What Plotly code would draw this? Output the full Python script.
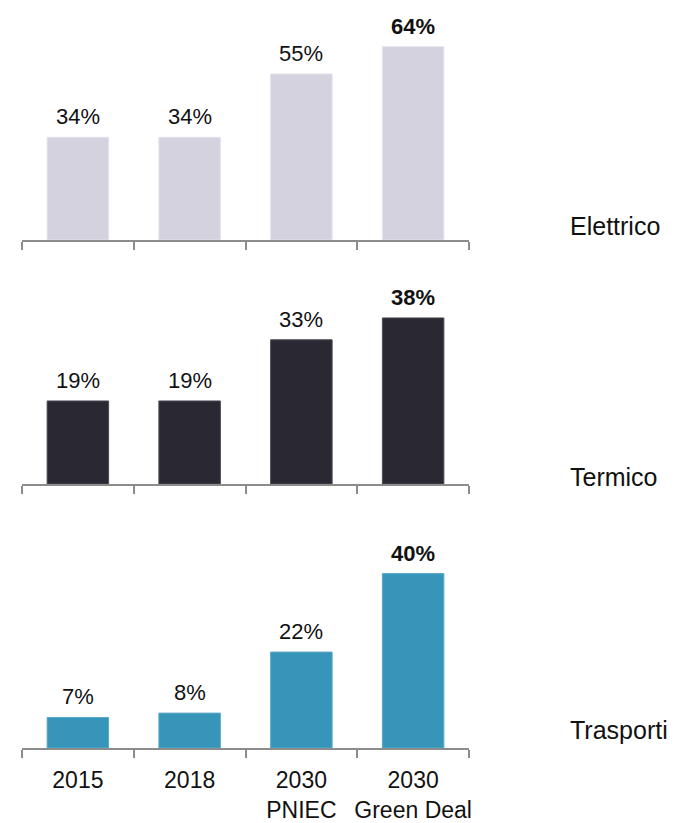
import plotly.graph_objects as go

categories = ["2015", "2018", "2030<br>PNIEC", "2030<br>Green Deal"]
sectors = ["Elettrico", "Termico", "Trasporti"]
elettrico = [34, 34, 55, 64]
termico = [19, 19, 33, 38]
trasporti = [7, 8, 22, 40]
colors = ["#D4D2DE", "#2A2933", "#3795BA"]
edge_colors = ["#E4E3EB", "#4A4953", "#5AA8C7"]

series = [elettrico, termico, trasporti]

# the page body has an 8px margin: figure sized to the visible area
OFF = 8
W = 675 - OFF
H = 823 - OFF


def px_x(x):
    return (x - OFF) / W


def px_y(y):
    return 1 - (y - OFF) / H


# panel geometry in reference pixels: (top, baseline, px per %)
panels = [(8, 240, 3.02), (260, 484, 4.37), (520, 748, 4.36)]
label_y = [226, 477, 730]

FONT = "Liberation Sans, Arial, sans-serif"

fig = go.Figure()
for i, vals in enumerate(series):
    top, base, scale = panels[i]
    xa = "x" if i == 0 else f"x{i+1}"
    ya = "y" if i == 0 else f"y{i+1}"
    fig.add_trace(go.Bar(
        x=categories, y=vals,
        marker=dict(color=colors[i], line=dict(color=edge_colors[i], width=1)),
        xaxis=xa, yaxis=ya, showlegend=False, hoverinfo="x+y",
    ))
    for j, v in enumerate(vals):
        txt = f"{v}%"
        if j == len(vals) - 1:
            txt = f"<b>{txt}</b>"
        fig.add_annotation(
            x=j, y=v, xref=xa, yref=ya, text=txt, showarrow=False,
            yanchor="bottom", yshift=6,
            font=dict(size=22, color="#111111", family=FONT),
        )
    xkey = "xaxis" if i == 0 else f"xaxis{i+1}"
    ykey = "yaxis" if i == 0 else f"yaxis{i+1}"
    fig.layout[xkey] = dict(
        domain=[px_x(22), px_x(469)], anchor=ya, type="category",
        categoryorder="array", categoryarray=categories,
        range=[-0.5, len(categories) - 0.5],
        showline=True, linecolor="#8C8C8C", linewidth=2,
        ticks="outside", tickson="boundaries", ticklen=8, tickwidth=2, tickcolor="#8C8C8C",
        showticklabels=(i == 2), tickangle=0, automargin=False, ticklabelstandoff=10,
        tickfont=dict(size=23, color="#111111", family=FONT),
        showgrid=False, zeroline=False, fixedrange=True,
    )
    fig.layout[ykey] = dict(
        domain=[px_y(base), px_y(top)], anchor=xa, range=[0, (base - top) / scale],
        visible=False, showgrid=False, zeroline=False, fixedrange=True, automargin=False,
    )
    fig.add_annotation(
        x=px_x(568), y=px_y(label_y[i]), xref="paper", yref="paper",
        text=sectors[i], showarrow=False, xanchor="left", yanchor="middle",
        font=dict(size=25, color="#111111", family=FONT),
    )

fig.update_layout(
    width=W, height=H, margin=dict(l=0, r=0, t=0, b=0, autoexpand=False),
    paper_bgcolor="white", plot_bgcolor="white", bargap=0.45,
)
fig.write_html("out.html")
